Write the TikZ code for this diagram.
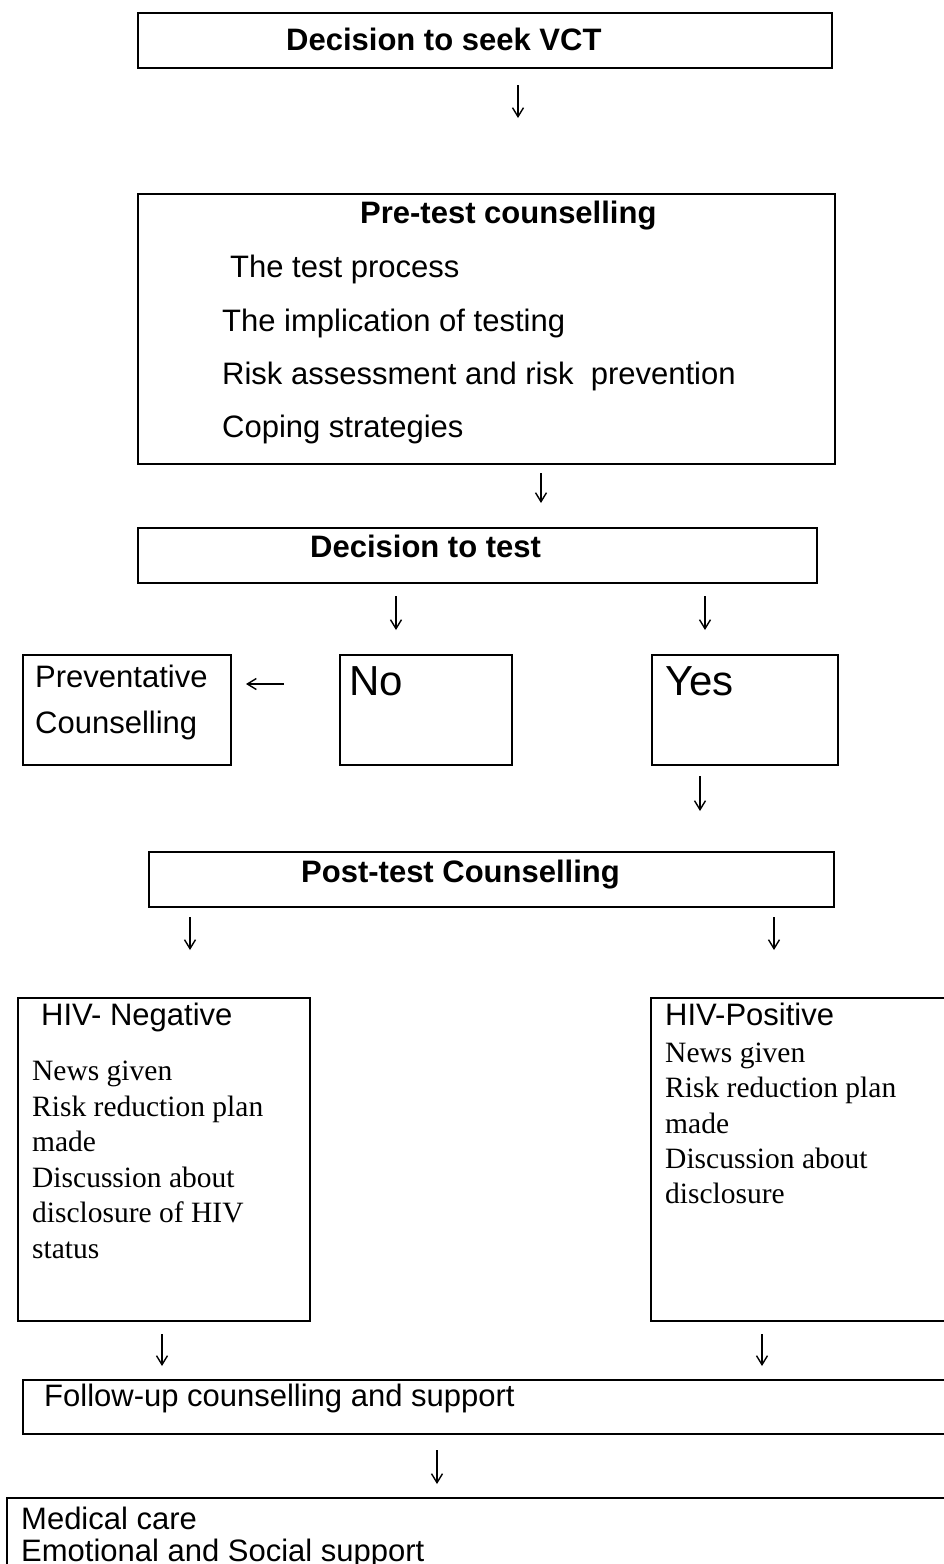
\documentclass[tikz,border=0pt]{standalone}
\usepackage{fontspec}
\setmainfont{Liberation Sans}
\newfontfamily\tnrfont{Liberation Serif}
\usetikzlibrary{arrows.meta}
\newcommand\fsans{\fontsize{31}{37}\selectfont}
\newcommand\fserif{\tnrfont\fontsize{29.5}{35}\selectfont}
\newcommand\fbig{\fontsize{42}{50}\selectfont}
\begin{document}
\begin{tikzpicture}[x=1pt,y=-1pt,
  box/.style={draw, line width=2pt, inner sep=0pt, anchor=north west},
  txt/.style={anchor=base west, inner sep=0pt, font=\fsans},
  ttl/.style={anchor=base west, inner sep=0pt, font=\fsans\bfseries},
  big/.style={anchor=base west, inner sep=0pt, font=\fbig},
  ser/.style={anchor=base west, inner sep=0pt, font=\fserif},
  arr/.style={line width=1.4pt, -{Straight Barb[length=9pt,width=11pt,line width=1.4pt]}}]
\useasboundingbox (0,0) rectangle (944,1564);
\clip (0,0) rectangle (944,1564);

% boxes
\node[box, minimum width=694pt, minimum height=55pt] (b1) at (137,12) {};
\node[box, minimum width=697pt, minimum height=270pt] (b2) at (137,193) {};
\node[box, minimum width=679pt, minimum height=55pt] (b3) at (137,527) {};
\node[box, minimum width=208pt, minimum height=110pt] (bprev) at (22,654) {};
\node[box, minimum width=172pt, minimum height=110pt] (bno) at (339,654) {};
\node[box, minimum width=186pt, minimum height=110pt] (byes) at (651,654) {};
\node[box, minimum width=685pt, minimum height=55pt] (bpost) at (148,851) {};
\node[box, minimum width=292pt, minimum height=323pt] (bneg) at (17,997) {};
\node[box, minimum width=320pt, minimum height=323pt] (bpos) at (650,997) {};
\node[box, minimum width=940pt, minimum height=54pt] (bfol) at (22,1379) {};
\node[box, minimum width=960pt, minimum height=120pt] (bmed) at (6,1497) {};

% texts
\node[ttl] (t1) at (286,50) {Decision to seek VCT};
\node[ttl] (t2) at (360,223) {Pre-test counselling};
\node[txt] (t2a) at (230,277) {The test process};
\node[txt] (t2b) at (222,331) {The implication of testing};
\node[txt] (t2c) at (222,384) {Risk assessment and risk\ \ prevention};
\node[txt] (t2d) at (222,437) {Coping strategies};
\node[ttl] (t3) at (310,557) {Decision to test};
\node[txt] (tp1) at (35,687) {Preventative};
\node[txt] (tp2) at (35,733) {Counselling};
\node[big] (tno) at (349,695) {No};
\node[big] (tyes) at (665,695) {Yes};
\node[ttl] (tpost) at (301,882) {Post-test Counselling};
\node[txt] (tneg) at (41,1025) {HIV- Negative};
\node[ser] (tn1) at (32,1080) {News given};
\node[ser] (tn2) at (32,1116) {Risk reduction plan};
\node[ser] (tn3) at (32,1151) {made};
\node[ser] (tn4) at (32,1187) {Discussion about};
\node[ser] (tn5) at (32,1222) {disclosure of HIV};
\node[ser] (tn6) at (32,1258) {status};
\node[txt] (tpos) at (665,1025) {HIV-Positive};
\node[ser] (tq1) at (665,1062) {News given};
\node[ser] (tq2) at (665,1097) {Risk reduction plan};
\node[ser] (tq3) at (665,1133) {made};
\node[ser] (tq4) at (665,1168) {Discussion about};
\node[ser] (tq5) at (665,1203) {disclosure};
\node[txt] (tfol) at (44,1406) {Follow-up counselling and support};
\node[txt] (tm1) at (21,1529) {Medical care};
\node[txt] (tm2) at (21,1561) {Emotional and Social support};

% arrow end points
\coordinate (a1s) at (518,85);   \coordinate (a1e) at (518,118);
\coordinate (a2s) at (541,473);  \coordinate (a2e) at (541,503);
\coordinate (a3s) at (396,596);  \coordinate (a3e) at (396,630);
\coordinate (a4s) at (705,596);  \coordinate (a4e) at (705,630);
\coordinate (a5s) at (284,684);  \coordinate (a5e) at (246,684);
\coordinate (a6s) at (700,776);  \coordinate (a6e) at (700,811);
\coordinate (a7s) at (190,917);  \coordinate (a7e) at (190,950);
\coordinate (a8s) at (774,917);  \coordinate (a8e) at (774,950);
\coordinate (a9s) at (162,1334); \coordinate (a9e) at (162,1366);
\coordinate (a10s) at (762,1334); \coordinate (a10e) at (762,1366);
\coordinate (a11s) at (437,1450); \coordinate (a11e) at (437,1484);

\foreach \i in {1,...,11} \draw[arr] (a\i s) -- (a\i e);
\end{tikzpicture}
\end{document}
